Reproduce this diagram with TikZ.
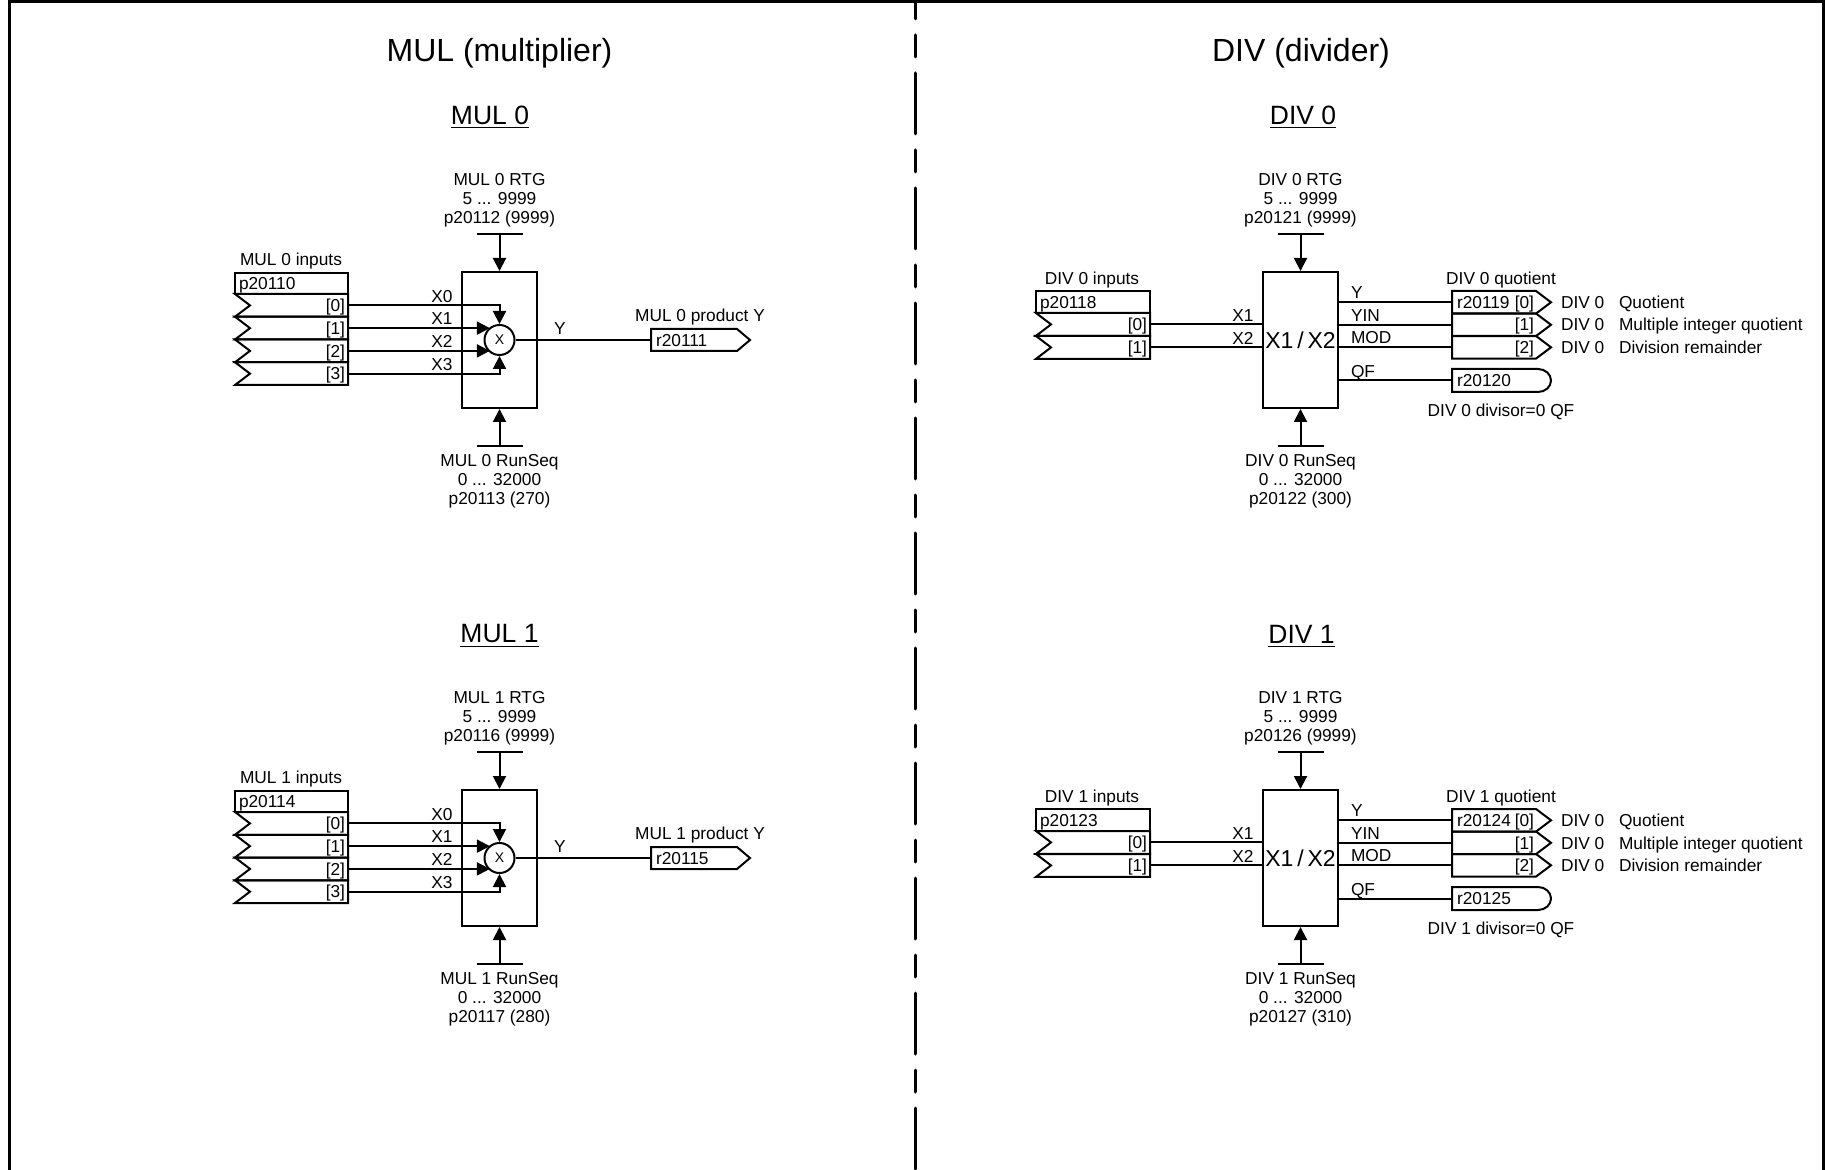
\documentclass[tikz,border=0pt]{standalone}
\usepackage{fontspec}
\setmainfont{Liberation Sans}
\usetikzlibrary{
	arrows.meta
}
\tikzset{
	lbl/.style={inner sep=0pt,font=\fontsize{8.65}{9.5}\selectfont,text height=6.2pt,text depth=0pt},
	stack/.style={inner sep=0pt,font=\fontsize{8.65}{9.5}\selectfont,align=center},
	headline/.style={inner sep=0pt,font=\fontsize{16}{18}\selectfont},
	subhead/.style={inner sep=0pt,font=\fontsize{13.25}{15}\selectfont},
	block/.style={draw,line width=1pt,minimum width=37.5pt,minimum height=68pt,inner sep=0pt},
	mulcircle/.style={draw,circle,line width=1pt,minimum size=15pt,inner sep=0pt,font=\fontsize{7}{8}\selectfont}
}

\begin{document}
\begin{tikzpicture}[x=0.5pt,y=-0.5pt,>={Triangle[length=6.5pt,width=6.5pt]},line width=1pt,line join=miter]

	\useasboundingbox (0,0) rectangle (1825,1170);

	% Frame and divider
	\coordinate (topleft) at (9.5,1.5);
	\coordinate (topright) at (1823.5,1.5);
	\coordinate (midtop) at (915.5,0);
	\coordinate (midbot) at (915.5,1170);
	\draw[line width=1.5pt] (9.5,1170) -- (topleft) -- (topright) -- (1823.5,1170);
	\draw[line width=1.5pt,line cap=round,dash pattern=on 30.5pt off 8pt on 11pt off 8pt,dash phase=21pt] (midtop) -- (midbot);

	\node[headline] (multitle) at (499.5,53.5) {MUL (multiplier)};
	\node[headline] (divtitle) at (1301,53.5) {DIV (divider)};

	% Multipliers
	\foreach \n/\dy/\hx/\pin/\pout/\prtg/\rtgval/\pseq/\seqval in {0/0/490/20110/20111/20112/9999/20113/270,1/518/499.5/20114/20115/20116/9999/20117/280}
	{
		\begin{scope}[yshift=-\dy*0.5pt]
			\node[subhead] (mulname\n) at (\hx,117+\n) {\underline{MUL \n}};
			\node[block] (mulblock\n) at (499.5,340) {};
			\node[mulcircle] (mulx\n) at (499.5,340) {X};

			% Inputs
			\node[lbl] (mulinlabel\n) at (291,259.5) {MUL \n\ inputs};
			\draw (235,273) rectangle (348,294);
			\node[lbl,anchor=west] (mulinpar\n) at (238,283.5) {p\pin};
			\foreach \i/\y in {0/294,1/316.75,2/339.5,3/362.25}
			{
				\draw (235,\y) -- (348,\y) -- (348,\y+22.75) -- (235,\y+22.75) -- (250,\y+11.4) -- cycle;
				\node[lbl,anchor=east] (mulidx\n\i) at (346,\y+11.4) {[\i]};
				\coordinate (mulin\n\i) at (348,\y+11.4);
				\node[lbl] (mulxlabel\n\i) at (442,\y+2) {X\i};
			}

			\draw[->] (mulin\n0) -| (mulx\n.north);
			\draw[->] (mulin\n1) -- (mulin\n1 -| mulx\n.127);
			\draw[->] (mulin\n2) -- (mulin\n2 -| mulx\n.233);
			\draw[->] (mulin\n3) -| (mulx\n.south);

			% Output
			\node[lbl] (mulylabel\n) at (560,328) {Y};
			\node[lbl] (muloutlabel\n) at (700,315.5) {MUL \n\ product Y};
			\draw (651,329) -- (737,329) -- (750,340) -- (737,351) -- (651,351) -- cycle;
			\node[lbl,anchor=west] (mulout\n) at (655,340) {r\pout};
			\coordinate (muloutpin\n) at (651,340);
			\draw (mulx\n) -- (muloutpin\n);

			% Settings
			\node[stack,anchor=south] (mulrtglabel\n) at (499.5,228) {MUL \n\ RTG\\5 ... 9999\\p\prtg\ (\rtgval)};
			\coordinate (mulrtg\n) at (499.5,234);
			\draw ([xshift=-11.5pt]mulrtg\n) -- ([xshift=11.5pt]mulrtg\n);
			\draw[->] (mulrtg\n) -- (mulblock\n.north);
			\node[stack,anchor=north] (mulseqlabel\n) at (499.5,453) {MUL \n\ RunSeq\\0 ... 32000\\p\pseq\ (\seqval)};
			\coordinate (mulseq\n) at (499.5,446);
			\draw ([xshift=-11.5pt]mulseq\n) -- ([xshift=11.5pt]mulseq\n);
			\draw[->] (mulseq\n) -- (mulblock\n.south);
		\end{scope}
	}

	% Dividers
	\foreach \n/\dy/\hx/\pin/\pq/\pf/\prtg/\pseq/\seqval in {0/0/1303/20118/20119/20120/20121/20122/300,1/518/1301.5/20123/20124/20125/20126/20127/310}
	{
		\begin{scope}[yshift=-\dy*0.5pt]
			\node[subhead] (divname\n) at (\hx,117+\n) {\underline{DIV \n}};
			\node[block] (divblock\n) at (1300.5,340) {};
			\node[inner sep=0pt,font=\fontsize{11.5}{13}\selectfont] (divx\n) at (1300.5,340) {X1\,/\,X2};

			% Inputs
			\node[lbl] (divinlabel\n) at (1092,278) {DIV \n\ inputs};
			\draw (1036,291) rectangle (1150,313);
			\node[lbl,anchor=west] (divinpar\n) at (1039,302) {p\pin};
			\foreach \i/\y/\lab in {0/313/X1,1/336/X2}
			{
				\draw (1036,\y) -- (1150,\y) -- (1150,\y+22.9) -- (1036,\y+22.9) -- (1051,\y+11.4) -- cycle;
				\node[lbl,anchor=east] (dividx\n\i) at (1148,\y+11.4) {[\i]};
				\coordinate (divin\n\i) at (1150,\y+11.4);
				\node[lbl] (divxlabel\n\i) at (1243,\y+2) {\lab};
				\draw (divin\n\i) -- (divin\n\i -| divblock\n.west);
			}

			% Outputs
			\node[lbl] (divoutlabel\n) at (1501,278) {DIV \n\ quotient};
			\foreach \i/\y/\lab/\txt in {0/291/Y/Quotient,1/313.5/YIN/Multiple integer quotient,2/336/MOD/Division remainder}
			{
				\draw (1452,\y) -- (1536,\y) -- (1551,\y+11.3) -- (1536,\y+22.6) -- (1452,\y+22.6) -- cycle;
				\node[lbl,anchor=east] (divqidx\n\i) at (1535,\y+11.3) {[\i]};
				\coordinate (divout\n\i) at (1452,\y+11.3);
				\node[lbl,anchor=west] (divylabel\n\i) at (1350,\y+1.5) {\lab};
				\draw (divout\n\i -| divblock\n.east) -- (divout\n\i);
				\node[lbl,anchor=west] (divunit\n\i) at (1560,\y+11.3) {DIV 0};
				\node[lbl,anchor=west] (divtxt\n\i) at (1618,\y+11.3) {\txt};
			}
			\node[lbl,anchor=west] (divq\n) at (1456,302.3) {r\pq};

			\draw (1452,369) -- (1538,369) arc[start angle=-90,end angle=90,x radius=13,y radius=11.5] -- (1452,392) -- cycle;
			\node[lbl,anchor=west] (divf\n) at (1456,380.5) {r\pf};
			\coordinate (divfpin\n) at (1452,380.5);
			\node[lbl,anchor=west] (divflabel\n) at (1350,371) {QF};
			\draw (divfpin\n -| divblock\n.east) -- (divfpin\n);
			\node[lbl] (divfnote\n) at (1501,410) {DIV \n\ divisor=0 QF};

			% Settings
			\node[stack,anchor=south] (divrtglabel\n) at (1300.5,228) {DIV \n\ RTG\\5 ... 9999\\p\prtg\ (9999)};
			\coordinate (divrtg\n) at (1300.5,234);
			\draw ([xshift=-11.5pt]divrtg\n) -- ([xshift=11.5pt]divrtg\n);
			\draw[->] (divrtg\n) -- (divblock\n.north);
			\node[stack,anchor=north] (divseqlabel\n) at (1300.5,453) {DIV \n\ RunSeq\\0 ... 32000\\p\pseq\ (\seqval)};
			\coordinate (divseq\n) at (1300.5,446);
			\draw ([xshift=-11.5pt]divseq\n) -- ([xshift=11.5pt]divseq\n);
			\draw[->] (divseq\n) -- (divblock\n.south);
		\end{scope}
	}

\end{tikzpicture}
\end{document}
